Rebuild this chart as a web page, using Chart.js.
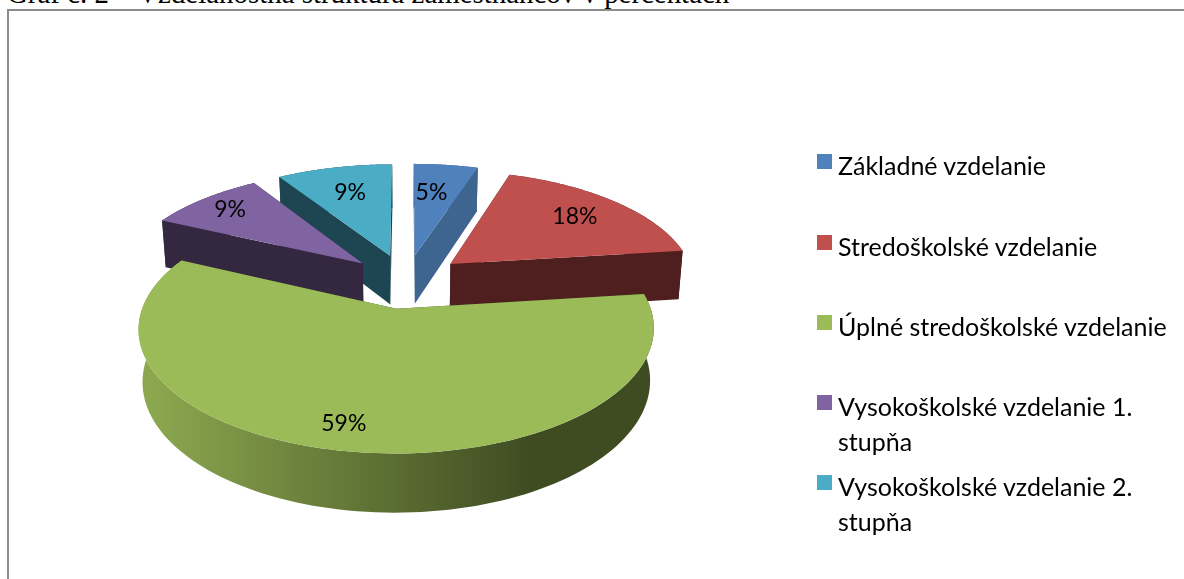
<!DOCTYPE html>
<html>
<head>
<meta charset="utf-8">
<title>Graf</title>
<script src="https://cdn.jsdelivr.net/npm/chart.js@4"></script>
<style>
html, body { margin: 0; padding: 0; background: #fff; overflow: hidden; }
#page { position: relative; width: 1184px; height: 579px; overflow: hidden; }
#caption { position: absolute; left: 7px; top: -19px; font: 28.9px/24px "Liberation Serif", serif; color: #000; white-space: nowrap; }
#frame { position: absolute; left: 7px; top: 9px; width: 1300px; height: 700px; border: 2px solid #8c8c8c; }
#chart { position: absolute; left: 0; top: 0; }
.legend-item { position: absolute; left: 838px; width: 335px; font: 25px/35px Lato, sans-serif; color: #000; }
.legend-box { position: absolute; left: -21px; top: 6px; width: 15px; height: 15px; }
</style>
</head>
<body>
<div id="page">
    <div id="caption">Graf č. 2 – Vzdelanostná štruktúra zamestnancov v percentách</div>
    <div id="frame"></div>
    <canvas id="chart" width="1184" height="579"></canvas>
    <div id="legend"></div>
</div>
<script>
const categories = [
    'Základné vzdelanie',
    'Stredoškolské vzdelanie',
    'Úplné stredoškolské vzdelanie',
    'Vysokoškolské vzdelanie 1. stupňa',
    'Vysokoškolské vzdelanie 2. stupňa'
];
const percentages = [5, 18, 59, 9, 9];

// colours
const topColors = ['#4f81bd', '#c0504d', '#9bbb59', '#8064a2', '#4bacc6'];
const cutColors = ['#3e6490', '#4f1f1f', '#3f4c22', '#33283f', '#1e4652'];
const wallLeft = '#8ca84f';
const wallRight = '#3f4c22';

// where the legend rows and the percent labels sit
const legendTops = [148, 229, 309, 389, 469];
const labelRadius = [0.66, 0.74, 0.84, 0.82, 0.69];
const labelShift = [-2, 0, 3, 0, 0];

// flat pie to tilted pie
const tilt = 0.46;
const perspective = 0.00063;
const depth = 50;
const bottomShrink = 0.985;

function project(arc, dx, dy, z) {
    const f = 1 / (1 - perspective * dy);
    const s = z ? bottomShrink : 1;
    return {
        x: arc.x + dx * f * s,
        y: arc.y + tilt * dy * f * s + (z ? depth * f : 0)
    };
}

function slicePoint(arc, angle, radius, z) {
    const mid = (arc.startAngle + arc.endAngle) / 2;
    const off = arc.options.offset;
    const dx = Math.cos(mid) * off + Math.cos(angle) * radius;
    const dy = Math.sin(mid) * off + Math.sin(angle) * radius;
    return project(arc, dx, dy, z);
}

function fillPoly(ctx, points, fill) {
    ctx.beginPath();
    points.forEach((p, i) => i ? ctx.lineTo(p.x, p.y) : ctx.moveTo(p.x, p.y));
    ctx.closePath();
    ctx.fillStyle = fill;
    ctx.fill();
}

function rimPoints(arc, z) {
    const pts = [];
    const steps = 120;
    for (let i = 0; i <= steps; i++) {
        const a = arc.startAngle + (arc.endAngle - arc.startAngle) * i / steps;
        pts.push(slicePoint(arc, a, arc.outerRadius, z));
    }
    return pts;
}

function cutFace(arc, angle) {
    return [
        slicePoint(arc, angle, 0, false),
        slicePoint(arc, angle, arc.outerRadius, false),
        slicePoint(arc, angle, arc.outerRadius, true),
        slicePoint(arc, angle, 0, true)
    ];
}

const tiltedPie = {
    id: 'tiltedPie',
    beforeDatasetsDraw(chart) {
        const ctx = chart.ctx;
        const arcs = chart.getDatasetMeta(0).data;

        // back slices first
        const order = arcs.map((arc, i) => i).sort((a, b) => {
            const ma = (arcs[a].startAngle + arcs[a].endAngle) / 2;
            const mb = (arcs[b].startAngle + arcs[b].endAngle) / 2;
            return Math.sin(ma) - Math.sin(mb);
        });

        order.forEach(i => {
            const arc = arcs[i];
            const top = rimPoints(arc, false);
            const bottom = rimPoints(arc, true);

            // hidden cut face goes down first, the front one covers it
            const faces = [arc.startAngle, arc.endAngle]
                .sort((a, b) => Math.sin(a) - Math.sin(b));
            faces.forEach(a => fillPoly(ctx, cutFace(arc, a), cutColors[i]));

            const grad = ctx.createLinearGradient(148, 0, 530, 0);
            grad.addColorStop(0, wallLeft);
            grad.addColorStop(1, wallRight);
            fillPoly(ctx, top.concat(bottom.reverse()), i === 2 ? grad : cutColors[i]);

            fillPoly(ctx, [slicePoint(arc, 0, 0, false)].concat(top), topColors[i]);
        });

        // percent labels
        ctx.font = '23px Lato, sans-serif';
        ctx.fillStyle = '#000';
        ctx.textAlign = 'center';
        ctx.textBaseline = 'middle';
        arcs.forEach((arc, i) => {
            const mid = (arc.startAngle + arc.endAngle) / 2 + labelShift[i] * Math.PI / 180;
            const p = slicePoint(arc, mid, arc.outerRadius * labelRadius[i], false);
            ctx.fillText(percentages[i] + '%', p.x, p.y);
        });

        return false;
    }
};

new Chart(document.getElementById('chart'), {
    type: 'pie',
    data: {
        labels: categories,
        datasets: [{
            data: percentages,
            backgroundColor: topColors,
            borderWidth: 0,
            offset: 59,
            radius: 245
        }]
    },
    options: {
        responsive: false,
        animation: false,
        layout: { padding: { left: 150, right: 522, top: 25, bottom: 42 } },
        plugins: { legend: { display: false }, tooltip: { enabled: false } }
    },
    plugins: [tiltedPie]
});

const legend = document.getElementById('legend');
categories.forEach((name, i) => {
    const item = document.createElement('div');
    item.className = 'legend-item';
    item.style.top = legendTops[i] + 'px';
    item.innerHTML = `<span class="legend-box" style="background:${topColors[i]}"></span>${name}`;
    legend.appendChild(item);
});
</script>
</body>
</html>
